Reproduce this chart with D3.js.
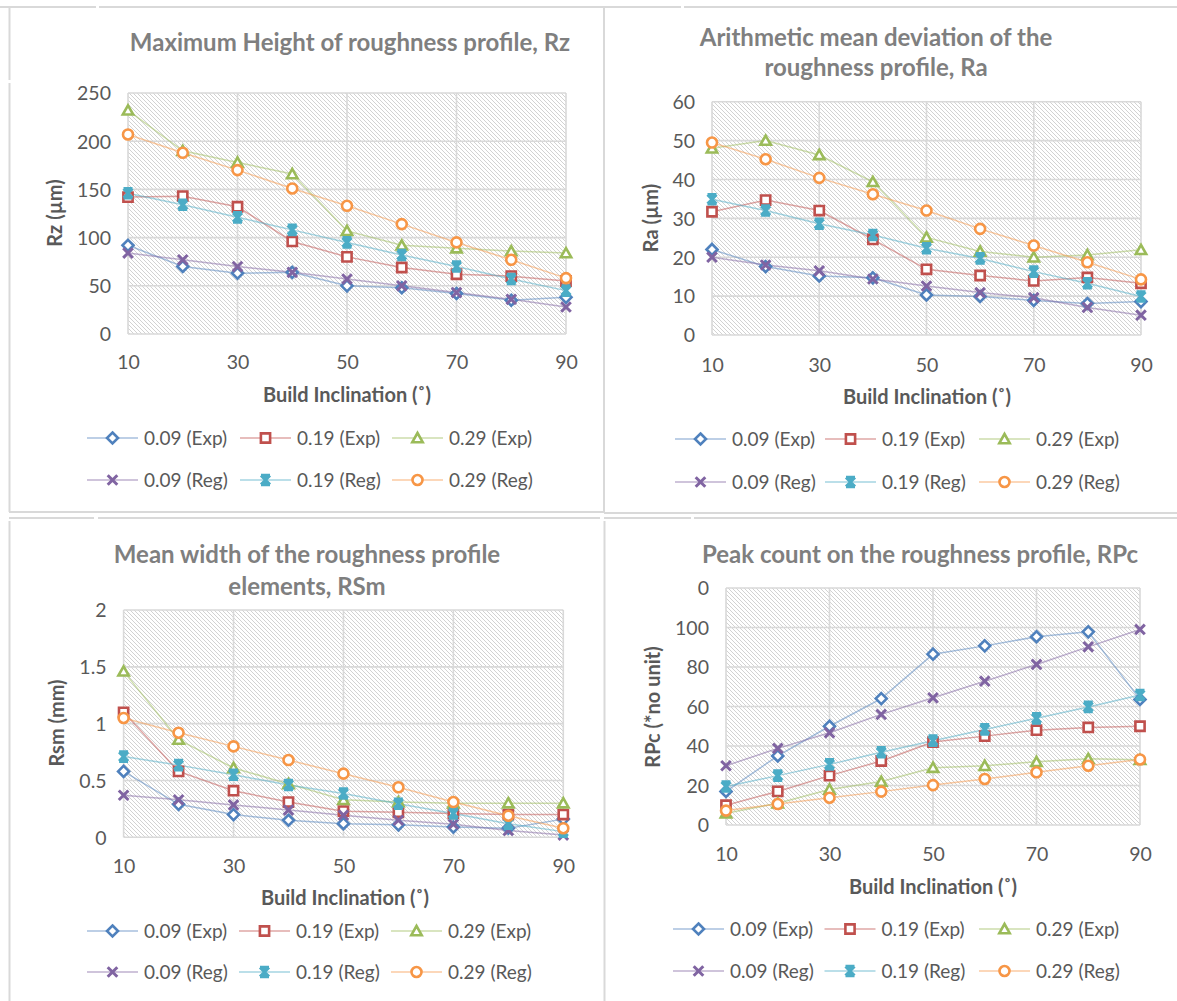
<!DOCTYPE html>
<html><head><meta charset="utf-8">
<script src="https://cdn.jsdelivr.net/npm/d3@7"></script>
<style>
body{margin:0;background:#fff}
svg{display:block}
text{font-family:Lato,"Open Sans",sans-serif}
</style>
</head><body>
<svg id="c" width="1177" height="1001"></svg>
<script>
// ---------- data ----------
const inclination = [10,20,30,40,50,60,70,80,90];
const xTickValues = [10,30,50,70,90];
const seriesNames = ["0.09 (Exp)","0.19 (Exp)","0.29 (Exp)","0.09 (Reg)","0.19 (Reg)","0.29 (Reg)"];

// Rz (µm)
const rz009Exp = [92,70,63,64,50,48,42,35,38];
const rz019Exp = [142,143,132,96,80,69,62,60,55];
const rz029Exp = [232,190,178,166,107,92,89,86,84];
const rz009Reg = [84,77,70,64,57,50,43,36,28];
const rz019Reg = [146,134,121,108,95,82,70,57,45];
const rz029Reg = [207,188,170,151,133,114,95,77,58];
const rzTicks = [0,50,100,150,200,250];
const rzTickLabels = ["0","50","100","150","200","250"];

// Ra (µm)
const ra009Exp = [22,17.6,15.2,14.7,10.3,9.9,8.9,8.1,8.6];
const ra019Exp = [31.7,34.7,32,24.6,16.9,15.3,13.9,14.8,13.3];
const ra029Exp = [48,50,46.3,39.4,25.1,21.5,20,20.6,21.9];
const ra009Reg = [20,18,16.5,14.4,12.6,10.9,9.6,7.1,5.1];
const ra019Reg = [34.9,32,28.6,25.7,22.3,19.7,16.3,13.3,9.9];
const ra029Reg = [49.5,45.2,40.4,36.2,32,27.3,23,18.7,14.3];
const raTicks = [0,10,20,30,40,50,60];
const raTickLabels = ["0","10","20","30","40","50","60"];

// RSm (mm)
const rsm009Exp = [0.58,0.29,0.2,0.15,0.12,0.11,0.09,0.08,0.16];
const rsm019Exp = [1.1,0.58,0.41,0.31,0.23,0.22,0.21,0.2,0.2];
const rsm029Exp = [1.46,0.86,0.61,0.47,0.33,0.31,0.3,0.3,0.3];
const rsm009Reg = [0.37,0.33,0.285,0.24,0.195,0.15,0.115,0.06,0.02];
const rsm019Reg = [0.71,0.635,0.55,0.46,0.385,0.295,0.21,0.12,0.05];
const rsm029Reg = [1.05,0.92,0.8,0.68,0.56,0.44,0.31,0.19,0.08];
const rsmTicks = [0,0.5,1,1.5,2];
const rsmTickLabels = ["0","0.5","1","1.5","2"];

// RPc (no unit)
const rpc009Exp = [17,35,50,64,86.5,90.7,95.3,97.8,63.6];
const rpc019Exp = [10,17,25,32.4,42,45,48,49.4,50];
const rpc029Exp = [6,11,18,22,29,30,32,33.5,33];
const rpc009Reg = [30,38.8,46.7,56,64.4,72.8,81.3,90.2,99];
const rpc019Reg = [19.5,25,30.7,36.8,42.7,48.4,54,59.8,65.8];
const rpc029Reg = [7.3,10.6,13.8,16.9,20.2,23.3,26.7,30,33.2];
const rpcTicks = [0,20,40,60,80,100,120];
const rpcTickLabels = ["0","20","40","60","80","100","0"];

// ---------- style ----------
const seriesColors = ["#4F81BD","#C0504D","#9BBB59","#8064A2","#4BACC6","#F79646"];
const seriesSymbols = ["diamond","square","triangle","cross","star","circle"];

const panels = [
  {title:["Maximum Height of roughness profile, Rz"], titleY:[43], titleX:350,
   yLabel:"Rz (µm)", yLabelX:55, yLabelY:213,
   series:[rz009Exp,rz019Exp,rz029Exp,rz009Reg,rz019Reg,rz029Reg],
   ticks:rzTicks, tickLabels:rzTickLabels,
   x0:128, x1:566, top:93, bottom:334, xTickY:362, xTitleY:395, xTitleX:347,
   legendCols:[87,240,392], legendRows:[438,480]},
  {title:["Arithmetic mean deviation of the","roughness profile, Ra"], titleY:[38,68], titleX:876,
   yLabel:"Ra (µm)", yLabelX:651, yLabelY:218,
   series:[ra009Exp,ra019Exp,ra029Exp,ra009Reg,ra019Reg,ra029Reg],
   ticks:raTicks, tickLabels:raTickLabels,
   x0:712, x1:1141, top:101.7, bottom:335, xTickY:365, xTitleY:397, xTitleX:927,
   legendCols:[675,825,979], legendRows:[439,482]},
  {title:["Mean width of the roughness profile","elements, RSm"], titleY:[555,587], titleX:307,
   yLabel:"Rsm (mm)", yLabelX:57, yLabelY:723,
   series:[rsm009Exp,rsm019Exp,rsm029Exp,rsm009Reg,rsm019Reg,rsm029Reg],
   ticks:rsmTicks, tickLabels:rsmTickLabels,
   x0:123.6, x1:563.3, top:610, bottom:837.3, xTickY:866, xTitleY:898, xTitleX:345,
   legendCols:[87,239,391], legendRows:[931,972]},
  {title:["Peak count on the roughness profile, RPc"], titleY:[555], titleX:920,
   yLabel:"RPc (*no unit)", yLabelX:653, yLabelY:707,
   series:[rpc009Exp,rpc019Exp,rpc029Exp,rpc009Reg,rpc019Reg,rpc029Reg],
   ticks:rpcTicks, tickLabels:rpcTickLabels,
   x0:726, x1:1140, top:588, bottom:825, xTickY:854, xTitleY:887, xTitleX:933,
   legendCols:[673,824.5,979], legendRows:[929,971]}
];

const svg = d3.select("#c");
const defs = svg.append("defs");
const pat = defs.append("pattern").attr("id","hatch").attr("patternUnits","userSpaceOnUse")
  .attr("width",4).attr("height",4);
pat.append("rect").attr("width",4).attr("height",4).attr("fill","#ffffff");
pat.append("path").attr("d","M-1,-1L5,5M3,-1L5,1M-1,3L1,5")
  .attr("stroke","#c6c6c6").attr("stroke-width",0.8);

// panel frames
const frameColor = "#d9d9d9";
const frames = [
  [[0,7,96,7],[99,7,604,7],[9.5,8,9.5,80],[9.5,83,9.5,512],[9,512,604,512],[604,7,604,512]],
  [[604,7,681,7],[684,7,1177,7],[604,83,604,513],[604,513,1177,513]],
  [[9,518,94,518],[98,518,600,518],[9.5,521,9.5,1001]],
  [[604,518,691,518],[694,518,1177,518],[604.5,521,604.5,1001]]
];
frames.flat().forEach(l=>{
  svg.append("line").attr("x1",l[0]).attr("y1",l[1]).attr("x2",l[2]).attr("y2",l[3])
    .attr("stroke",frameColor).attr("stroke-width",2);
});

function symbolPath(type){
  switch(type){
    case "diamond": return "M0,-5.5L5.5,0L0,5.5L-5.5,0Z";
    case "square": return "M-4.6,-4.6H4.6V4.6H-4.6Z";
    case "triangle": return "M0,-5L5.2,4.2H-5.2Z";
    case "cross": return "M-4.8,-4.8L4.8,4.8M-4.8,4.8L4.8,-4.8";
    case "star": return "M-4.5,-4.5L4.5,4.5M-4.5,4.5L4.5,-4.5M0,-5V5M-4.5,-4.8H4.5M-4.5,4.8H4.5";
    case "circle": return "M5,0A5,5 0 1,1 -5,0A5,5 0 1,1 5,0Z";
  }
}
function drawMarker(g, x, y, i){
  const open = !(seriesSymbols[i]==="cross"||seriesSymbols[i]==="star");
  g.append("path").attr("d", symbolPath(seriesSymbols[i]))
    .attr("transform",`translate(${x},${y})`)
    .attr("fill", open ? "#ffffff" : "none")
    .attr("stroke", seriesColors[i]).attr("stroke-width", open ? 2.6 : 3)
    .attr("stroke-linejoin","miter");
}

const tickColor = "#595959";

panels.forEach(p=>{
  const g = svg.append("g");
  const x = d3.scaleLinear().domain([10,90]).range([p.x0,p.x1]);
  const y = d3.scaleLinear().domain([p.ticks[0], p.ticks[p.ticks.length-1]]).range([p.bottom,p.top]);

  g.append("rect").attr("x",p.x0).attr("y",p.top).attr("width",p.x1-p.x0).attr("height",p.bottom-p.top)
    .attr("fill","url(#hatch)");

  g.append("g").selectAll("line").data(p.ticks).join("line")
    .attr("x1",p.x0).attr("x2",p.x1).attr("y1",d=>y(d)).attr("y2",d=>y(d))
    .attr("stroke","#d9d9d9").attr("stroke-width",1.6);
  g.append("g").selectAll("line").data(xTickValues).join("line")
    .attr("x1",d=>x(d)).attr("x2",d=>x(d)).attr("y1",p.top).attr("y2",p.bottom)
    .attr("stroke","#d9d9d9").attr("stroke-width",1.6);

  const ya = g.append("g").attr("transform",`translate(${p.x0},0)`)
    .call(d3.axisLeft(y).tickValues(p.ticks).tickSize(0).tickPadding(17)
      .tickFormat((d,i)=>p.tickLabels[i]));
  ya.select(".domain").remove();
  ya.selectAll("text").attr("fill",tickColor).attr("font-size",19.5).attr("font-family","Lato").attr("dy","0.35em");

  const xa = g.append("g").attr("transform",`translate(0,${p.xTickY})`)
    .call(d3.axisBottom(x).tickValues(xTickValues).tickSize(0).tickPadding(0).tickFormat(d3.format("d")));
  xa.select(".domain").remove();
  xa.selectAll("text").attr("fill",tickColor).attr("font-size",19.5).attr("font-family","Lato")
    .attr("y",0).attr("dy","0.35em");

  p.title.forEach((t,k)=>{
    g.append("text").attr("x",p.titleX).attr("y",p.titleY[k]).attr("dy","0.35em")
      .attr("text-anchor","middle").attr("font-size",24).attr("font-weight","bold")
      .attr("fill","#7f7f7f").text(t);
  });
  g.append("text").attr("x",p.xTitleX).attr("y",p.xTitleY).attr("dy","0.35em")
    .attr("text-anchor","middle").attr("font-size",20).attr("font-weight","bold")
    .attr("fill",tickColor).text("Build Inclination (˚)");
  g.append("text").attr("transform",`translate(${p.yLabelX},${p.yLabelY}) rotate(-90)`)
    .attr("dy","0.35em").attr("text-anchor","middle").attr("font-size",20).attr("font-weight","bold")
    .attr("fill",tickColor).text(p.yLabel);

  const line = d3.line().x((d,i)=>x(inclination[i])).y(d=>y(d));
  p.series.forEach((s,i)=>{
    g.append("path").attr("d",line(s)).attr("fill","none")
      .attr("stroke",seriesColors[i]).attr("stroke-opacity",0.5).attr("stroke-width",1.5);
  });
  p.series.forEach((s,i)=>{
    s.forEach((v,j)=> drawMarker(g, x(inclination[j]), y(v), i));
  });

  seriesNames.forEach((name,i)=>{
    const cx = p.legendCols[i%3], cy = p.legendRows[Math.floor(i/3)];
    g.append("line").attr("x1",cx).attr("x2",cx+51).attr("y1",cy).attr("y2",cy)
      .attr("stroke",seriesColors[i]).attr("stroke-opacity",0.5).attr("stroke-width",1.5);
    drawMarker(g, cx+25.5, cy, i);
    g.append("text").attr("x",cx+57).attr("y",cy).attr("dy","0.35em")
      .attr("font-size",19).attr("fill",tickColor).text(name);
  });
});
</script>
</body></html>
